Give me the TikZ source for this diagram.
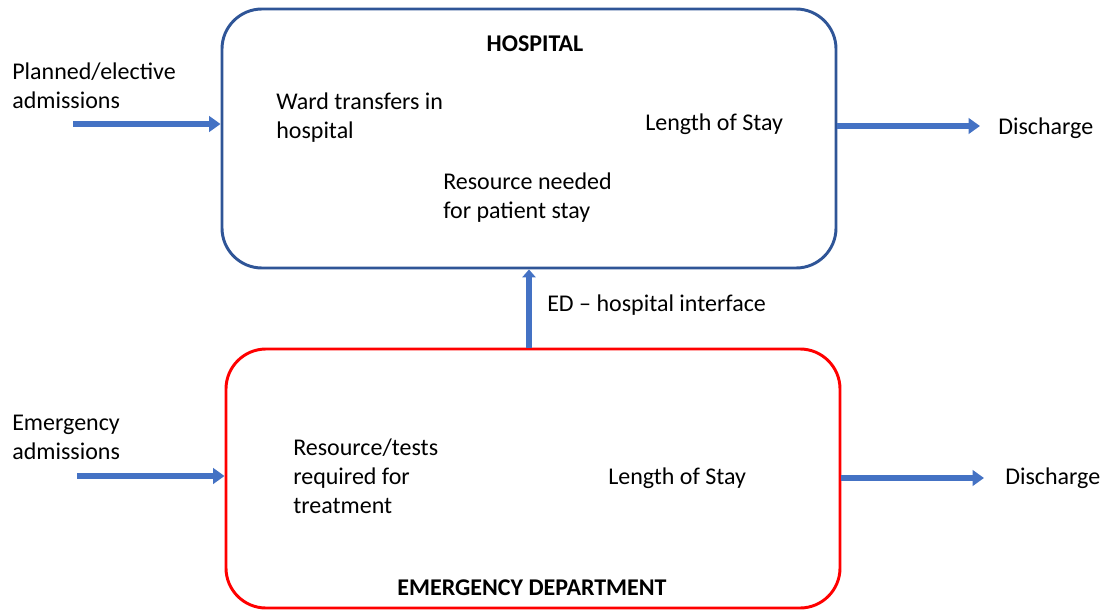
\documentclass[tikz,border=0pt]{standalone}
\usepackage{fontspec}
\setmainfont{Carlito}
\usetikzlibrary{arrows.meta}
\definecolor{flowblue}{HTML}{4472C4}
\definecolor{hospblue}{HTML}{2F5597}
\definecolor{edred}{HTML}{FF0000}
\begin{document}
\begin{tikzpicture}[x=0.75pt,y=-0.75pt,
  font=\fontsize{18}{21.75}\selectfont,
  unitbox/.style={draw, line width=2.2pt, rounded corners=30pt,
    minimum width=460.5pt, minimum height=194.25pt, inner sep=0pt},
  txt/.style={inner sep=0pt, align=left, anchor=west},
  heading/.style={font=\fontsize{18}{21.75}\selectfont\bfseries, inner sep=0pt},
  flow/.style={draw=flowblue, line width=4.5pt,
    -{Triangle[length=8.5pt, width=11.5pt]}}
]
\useasboundingbox (0,0) rectangle (1117,610);

% the two units
\node[unitbox, draw=hospblue] (hosp) at (529,138.5) {};
\node[unitbox, draw=edred] (ed) at (533,478.5) {};

% hospital contents
\node[heading] (hosptitle) at (535,44) {HOSPITAL};
\node[txt] (ward) at (276,118) {Ward transfers in\\hospital};
\node[txt] (loshosp) at (645,124) {Length of Stay};
\node[txt] (resource) at (443,197.5) {Resource needed\\for patient stay};

% emergency department contents
\node[txt] (tests) at (293,476) {Resource/tests\\required for\\treatment};
\node[txt] (losed) at (608,478) {Length of Stay};
\node[heading] (edtitle) at (532,588) {EMERGENCY DEPARTMENT};

% inflows and outflows
\node[txt] (planned) at (12,86) {Planned/elective\\admissions};
\node[txt] (emerg) at (12,437) {Emergency\\admissions};
\node[txt] (dischosp) at (998,128) {Discharge};
\node[txt] (disced) at (1005,478) {Discharge};

\coordinate (plannedtail) at (73,124);
\coordinate (emergtail) at (77,476);
\coordinate (hospout) at (980,126);
\coordinate (edout) at (984,478);

\draw[flow] (plannedtail) -- (plannedtail -| hosp.west);
\draw[flow] (emergtail) -- (emergtail -| ed.west);
\draw[flow] (hospout -| hosp.east) -- (hospout);
\draw[flow] (edout -| ed.east) -- (edout);

% interface between the units
\draw[flow, -{Triangle[length=6pt, width=10pt]}] (ed.north -| hosp.south) -- (hosp.south);
\node[txt] (iface) at (547,305.5) {ED – hospital interface};
\end{tikzpicture}
\end{document}
